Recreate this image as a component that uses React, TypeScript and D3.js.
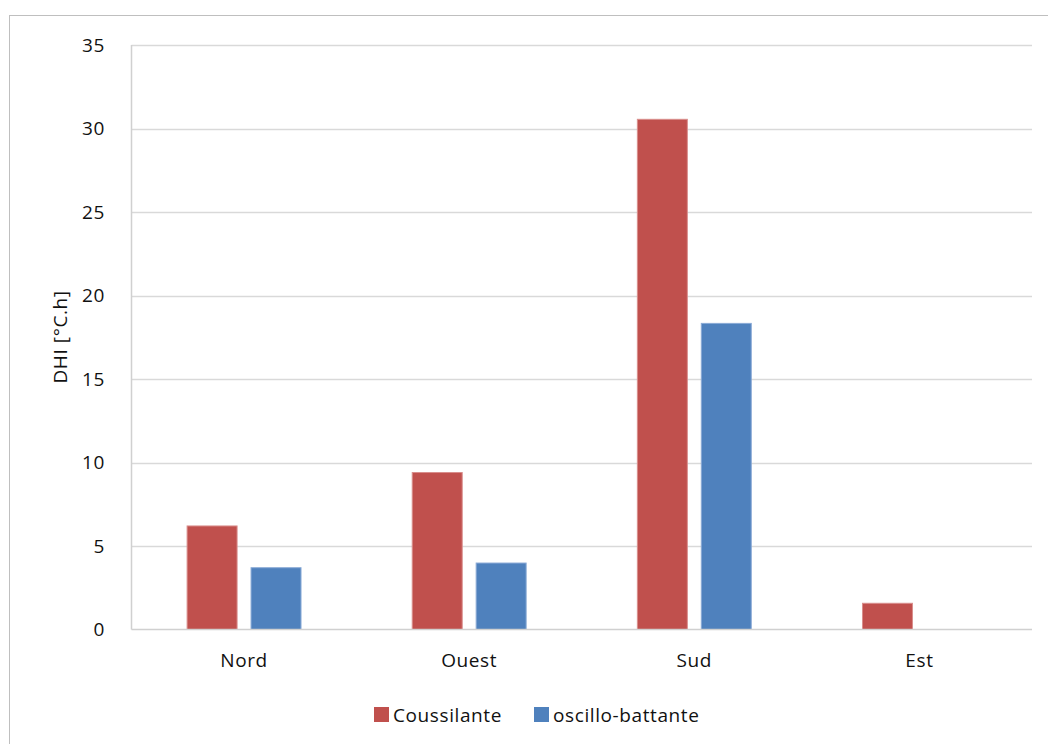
import React from "react";
import * as d3 from "d3";

const categories = ["Nord", "Ouest", "Sud", "Est"];
const seriesNames = ["Coussilante", "oscillo-battante"];
const coussilante = [6.2, 9.4, 30.55, 1.57];
const oscilloBattante = [3.7, 3.98, 18.33, 0];
const yTicks = [0, 5, 10, 15, 20, 25, 30, 35];
const colors = ["#C0504D", "#4F81BD"];
const strokes = ["#D98E8C", "#8AAAD6"];

const W = 1048;
const H = 744;
const plot = { left: 131.5, right: 1032, top: 45, bottom: 629.5 };
const FONT = "'Open Sans', Lato, sans-serif";
const FS = 19;
const LS = 0.6;

export default function App() {
  const x = d3.scaleBand<string>().domain(categories).range([plot.left, plot.right]).padding(0);
  const y = d3.scaleLinear().domain([0, 35]).range([plot.bottom, plot.top]);
  const band = x.bandwidth();
  const barW = band * 0.222;
  const gap = band * 0.062;
  const series = [coussilante, oscilloBattante];
  const txt = { fontFamily: FONT, fontSize: FS, fill: "#111", letterSpacing: LS } as const;

  return (
    <svg width={W} height={H} style={{ position: "absolute", left: 0, top: 0, display: "block" }}>
      <rect x={0} y={0} width={W} height={H} fill="#fff" />
      <rect x={9.5} y={15.5} width={W + 10} height={H + 10} fill="none" stroke="#BFBFBF" strokeWidth={1} />
      {yTicks.map((t) => (
        <g key={t}>
          {t > 0 && (
            <line x1={plot.left} x2={plot.right} y1={Math.round(y(t)) + 0.5} y2={Math.round(y(t)) + 0.5} stroke="#D9D9D9" strokeWidth={1.5} />
          )}
          <text x={105} y={y(t)} dy="0.36em" textAnchor="end" {...txt}>
            {t}
          </text>
        </g>
      ))}
      <line x1={plot.left} x2={plot.left} y1={plot.top} y2={plot.bottom} stroke="#D0D0D0" strokeWidth={1.5} />
      {categories.map((c, i) => {
        const cx = (x(c) as number) + band / 2;
        return (
          <g key={c}>
            {series.map((s, k) => {
              const v = s[i];
              if (!v) return null;
              const bx = k === 0 ? cx - gap / 2 - barW : cx + gap / 2;
              return (
                <rect key={k} x={bx} y={y(v)} width={barW} height={y(0) - y(v)} fill={colors[k]} stroke={strokes[k]} strokeWidth={1} />
              );
            })}
            <text x={cx} y={667} textAnchor="middle" {...txt}>
              {c}
            </text>
          </g>
        );
      })}
      <line x1={plot.left} x2={plot.right} y1={plot.bottom} y2={plot.bottom} stroke="#D0D0D0" strokeWidth={1.5} />
      <text transform={`translate(67,337) rotate(-90)`} textAnchor="middle" {...txt}>
        DHI [°C.h]
      </text>
      {seriesNames.map((n, k) => {
        const lx = k === 0 ? 374 : 534;
        return (
          <g key={n}>
            <rect x={lx} y={707} width={15} height={15} fill={colors[k]} />
            <text x={lx + 19} y={722} {...txt}>
              {n}
            </text>
          </g>
        );
      })}
    </svg>
  );
}
